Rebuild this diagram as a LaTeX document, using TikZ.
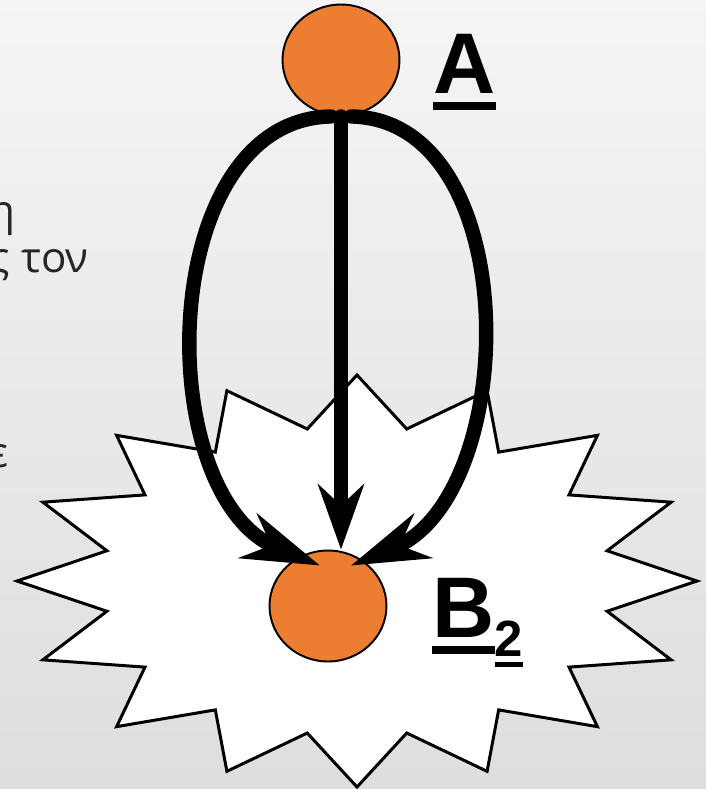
\documentclass[tikz,border=0pt]{standalone}
\usepackage{fontspec}
\setmainfont{Liberation Sans}
\newfontfamily\grk{Open Sans}
\usetikzlibrary{arrows.meta,shapes.geometric}
\definecolor{dotorange}{HTML}{ED7D31}
\newcommand\ubar[1]{\setbox0\hbox{#1}\rlap{\rule[-0.2em]{\wd0}{0.1em}}\box0}
\begin{document}
\begin{tikzpicture}[x=0.02cm,y=-0.02cm,
		dot/.style={ellipse,draw,line width=1.1pt,fill=dotorange,minimum width=2.34cm,minimum height=2.22cm,inner sep=0pt},
		link/.style={line width=8.2pt,line cap=round,-{Stealth[length=44pt,width=27pt,inset=14pt]}},
		straight/.style={link,-{Stealth[length=37pt,width=26pt,inset=12pt]}},
		burst/.style={draw,line width=1.7pt,fill=white,line join=miter},
		lbl/.style={inner sep=0pt,anchor=base west,font=\bfseries\fontsize{49pt}{49pt}\selectfont},
		cut/.style={inner sep=0pt,anchor=base east,text=black!85,font=\grk\fontsize{24pt}{24pt}\selectfont}]
	\useasboundingbox (0,0) rectangle (706,789);
	\shade[top color=black!4,bottom color=black!13] (0,0) rectangle (706,789);
	% text of the slide, cut at the left edge
	\node[cut] (t1) at (16,225) {η};
	\node[cut] (t2) at (89,272) {ς τον};
	\node[cut] (t3) at (9,467) {ε};
	% 16 point star
	\def\rout{340 and 206}
	\def\rin{255 and 155}
	\draw[burst,shift={(357,581)}] (90:\rout)
		\foreach \k in {0,...,15} { -- ({101.25+22.5*\k}:\rin) -- ({112.5+22.5*\k}:\rout) } -- cycle;
	\node[dot] (B) at (328,606) {};
	\node[dot] (A) at (341,60) {};
	\coordinate (Bl) at ([xshift=-0.16cm,yshift=-0.32cm]B.north);
	\coordinate (Br) at ([xshift=0.46cm,yshift=-0.32cm]B.north);
	\draw[link] ([xshift=-0.2cm]A.south) .. controls +(-176,3) and +(-170,-70) .. (Bl);
	\draw[link] ([xshift=0.2cm]A.south) .. controls +(175,3) and +(170,-70) .. (Br);
	\draw[straight] (A.south) -- (A.south |- B.north);
	\node[lbl] (labA) at (433,93) {\ubar{A}};
	\node[lbl] (labB) at (432,637) {\ubar{B}\raisebox{-11.3pt}{\fontsize{29pt}{29pt}\selectfont\ubar{2}}};
\end{tikzpicture}
\end{document}
